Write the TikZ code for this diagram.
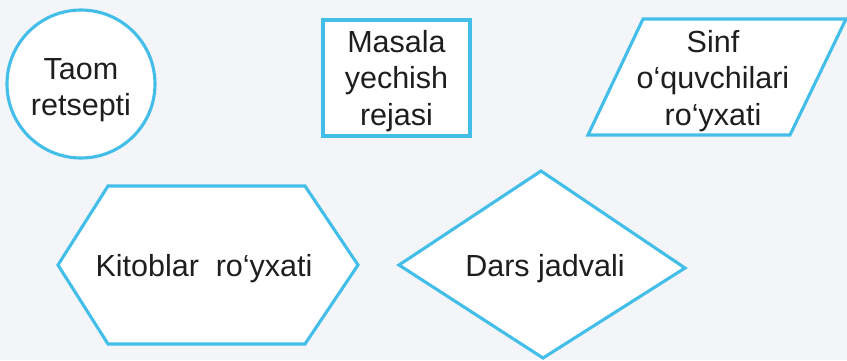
\documentclass[tikz,border=0pt]{standalone}
\usepackage{fontspec}
\setmainfont{Liberation Sans}
\usetikzlibrary{shapes.geometric}
\definecolor{ln}{HTML}{42BEE8}
\definecolor{bg}{HTML}{F3F5F8}
\definecolor{tx}{HTML}{1E1E1E}
\begin{document}
\begin{tikzpicture}[x=1pt,y=-1pt,
  shp/.style={draw=ln, line width=3.1pt, fill=white, line join=miter},
  lbl/.style={text=tx, font=\fontsize{30.5}{36.5}\selectfont, align=center, inner sep=0pt}]
\fill[bg] (0,0) rectangle (847,360);
\useasboundingbox (0,0) rectangle (847,360);
% circle
\node[shp, circle, minimum size=148pt, inner sep=0pt] (taom) at (81,84) {};
\node[lbl] (taomt) at (81,90) {Taom\\retsepti};
% rectangle
\node[shp, rectangle, minimum width=147pt, minimum height=116pt, inner sep=0pt] (masala) at (396.5,78) {};
\node[lbl] (masalat) at (396.5,81) {Masala\\yechish\\rejasi};
% parallelogram
\draw[shp] (643,19) -- (846,19) -- (790,135) -- (588,135) -- cycle;
\node[lbl] (sinf) at (713,81) {Sinf\\o‘quvchilari\\ro‘yxati};
% hexagon
\draw[shp] (108,186) -- (305,186) -- (358,265) -- (305,344) -- (108,344) -- (58,265) -- cycle;
\node[lbl] (kitob) at (204,269) {Kitoblar\ \ ro‘yxati};
% diamond
\draw[shp] (541,171) -- (685,268) -- (543,358) -- (399,265) -- cycle;
\node[lbl] (dars) at (545,269) {Dars jadvali};
\end{tikzpicture}
\end{document}
